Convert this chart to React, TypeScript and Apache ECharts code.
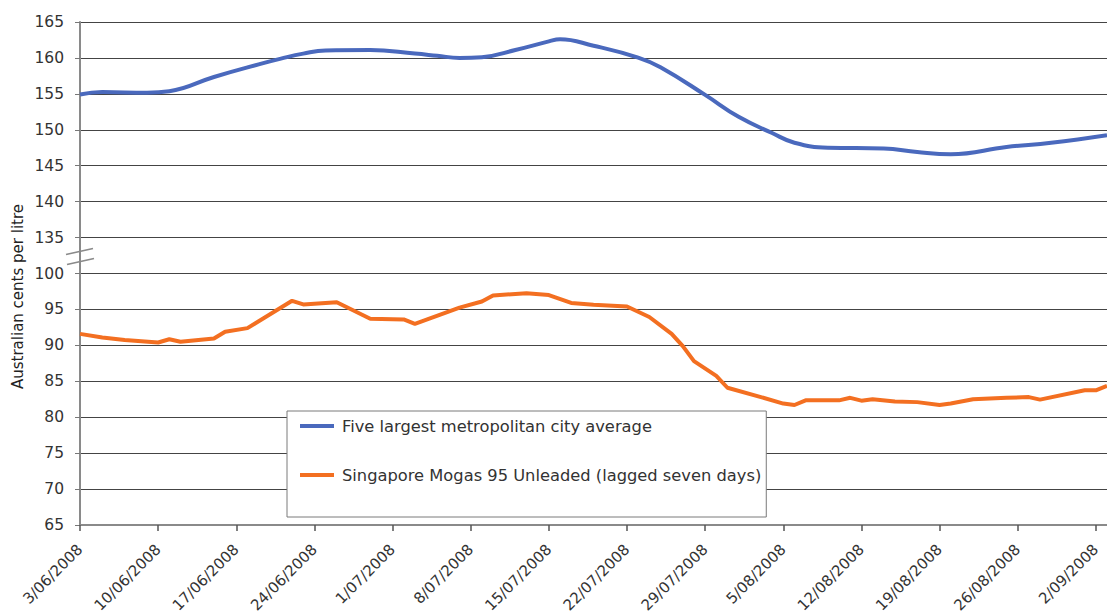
import React, { useEffect, useRef } from "react";
import * as echarts from "echarts";

// Day index counted from 3/06/2008
const START_UTC = Date.UTC(2008, 5, 3);
const TOTAL_DAYS = 92;

const metroDays = [0, 2, 6, 8, 12, 16, 18, 20, 22, 26, 30, 32, 34, 36, 39, 42, 43, 46, 50, 52, 56, 59, 62, 64, 67, 72, 75, 78, 83, 87, 92];
const metroValues = [154.9, 155.25, 155.15, 155.35, 157.35, 159.1, 159.9, 160.6, 161.05, 161.1, 160.6, 160.3, 160.0, 160.1, 161.1, 162.3, 162.6, 161.7, 160.05, 158.7, 154.85, 151.8, 149.55, 148.2, 147.5, 147.4, 146.9, 146.6, 147.6, 148.2, 149.25];

const mogasDays = [0, 2, 4, 7, 8, 9, 12, 13, 15, 19, 20, 22, 23, 26, 29, 30, 34, 36, 37, 40, 42, 44, 46, 49, 51, 53, 54, 55, 57, 58, 61, 63, 64, 65, 68, 69, 70, 71, 73, 75, 77, 78, 80, 83, 85, 86, 90, 91, 92];
const mogasValues = [91.6, 91.1, 90.75, 90.4, 90.85, 90.5, 90.95, 91.9, 92.4, 96.2, 95.7, 95.9, 96.0, 93.7, 93.6, 93.0, 95.25, 96.1, 96.95, 97.25, 97.0, 95.9, 95.65, 95.4, 93.95, 91.6, 89.9, 87.8, 85.75, 84.1, 82.8, 81.9, 81.7, 82.35, 82.35, 82.7, 82.3, 82.5, 82.2, 82.1, 81.7, 81.9, 82.5, 82.7, 82.8, 82.45, 83.75, 83.75, 84.35];

const seriesNames = ["Five largest metropolitan city average", "Singapore Mogas 95 Unleaded (lagged seven days)"];
const yAxisTitle = "Australian cents per litre";

// Axis break: values 100..135 are collapsed to one 5-unit step
const BREAK_LOW = 100;
const BREAK_HIGH = 135;
const BREAK_SHIFT = BREAK_HIGH - BREAK_LOW - 5; // 30
const toAxis = (v: number) => (v >= BREAK_HIGH ? v - BREAK_SHIFT : v);
const fromAxis = (v: number) => (v > BREAK_LOW ? v + BREAK_SHIFT : v);

const fmtDate = (d: number) => {
  const dt = new Date(START_UTC + d * 86400000);
  return `${dt.getUTCDate()}/${String(dt.getUTCMonth() + 1).padStart(2, "0")}/${dt.getUTCFullYear()}`;
};

const FONT = "'DejaVu Sans', Verdana, sans-serif";

export default function App() {
  const ref = useRef<HTMLDivElement>(null);
  useEffect(() => {
    document.body.style.margin = "0";
    const chart = echarts.init(ref.current!, null, { renderer: "svg" });
    const option: any = {
      animation: false,
      backgroundColor: "#ffffff",
      textStyle: { fontFamily: FONT },
      grid: { left: 80, right: 0, top: 22, bottom: 91, containLabel: false },
      xAxis: {
        type: "value",
        min: 0,
        max: TOTAL_DAYS,
        interval: 7,
        axisLine: { show: true, lineStyle: { color: "#8a8a8a", width: 2 } },
        axisTick: { show: true, length: 6, lineStyle: { color: "#555", width: 1.5 } },
        splitLine: { show: false },
        axisLabel: {
          rotate: 45,
          margin: 22,
          fontSize: 15,
          color: "#333",
          fontFamily: FONT,
          showMaxLabel: false,
          formatter: (v: number) => fmtDate(v),
        },
      },
      yAxis: {
        type: "value",
        min: 65,
        max: 135,
        interval: 5,
        axisLine: { show: true, lineStyle: { color: "#8a8a8a", width: 2 } },
        axisTick: { show: true, length: 5, lineStyle: { color: "#777", width: 1 } },
        splitLine: { show: true, lineStyle: { color: "#444", width: 1 } },
        axisLabel: {
          margin: 16,
          fontSize: 15.5,
          color: "#333",
          fontFamily: FONT,
          formatter: (v: number) => String(fromAxis(v)),
        },
      },
      legend: {
        orient: "vertical",
        left: 287,
        top: 411,
        backgroundColor: "#ffffff",
        borderColor: "#7a7a7a",
        borderWidth: 1,
        borderRadius: 0,
        padding: [6, 5, 33, 13],
        itemGap: 31,
        itemWidth: 34,
        itemHeight: 4,
        icon: "rect",
        textStyle: { fontSize: 16.3, color: "#333", fontFamily: FONT, lineHeight: 18, padding: [0, 0, 0, 3] },
        data: seriesNames,
      },
      series: [
        {
          name: seriesNames[0],
          type: "line",
          smooth: 0.45,
          showSymbol: false,
          symbol: "none",
          lineStyle: { color: "#4a69bd", width: 4 },
          itemStyle: { color: "#4a69bd" },
          data: metroDays.map((d, i) => [d, toAxis(metroValues[i])]),
          z: 3,
        },
        {
          name: seriesNames[1],
          type: "line",
          smooth: false,
          showSymbol: false,
          symbol: "none",
          lineStyle: { color: "#f36f21", width: 4 },
          itemStyle: { color: "#f36f21" },
          data: mogasDays.map((d, i) => [d, toAxis(mogasValues[i])]),
          z: 3,
        },
      ],
    };
    chart.setOption(option);

    const ax = chart.convertToPixel({ xAxisIndex: 0 }, 0) as number;
    const yb = chart.convertToPixel({ yAxisIndex: 0 }, BREAK_LOW + 2.5) as number;
    const plotMid = (chart.convertToPixel({ yAxisIndex: 0 }, 65) as number + (chart.convertToPixel({ yAxisIndex: 0 }, 135) as number)) / 2;
    chart.setOption({
      graphic: [
        {
          type: "line",
          shape: { x1: ax - 14, y1: yb - 1, x2: ax + 13, y2: yb - 7 },
          style: { stroke: "#8a8a8a", lineWidth: 1.5 },
          z: 100,
        },
        {
          type: "line",
          shape: { x1: ax - 13, y1: yb + 9, x2: ax + 14, y2: yb + 3 },
          style: { stroke: "#8a8a8a", lineWidth: 1.5 },
          z: 100,
        },
        {
          type: "text",
          x: 18,
          y: plotMid + 23,
          rotation: Math.PI / 2,
          style: {
            text: yAxisTitle,
            fill: "#222",
            font: `15px ${FONT}`,
            textAlign: "center",
            textVerticalAlign: "middle",
          },
          z: 100,
        },
      ],
    });

    return () => chart.dispose();
  }, []);
  return <div ref={ref} style={{ width: 1107, height: 616 }} />;
}
